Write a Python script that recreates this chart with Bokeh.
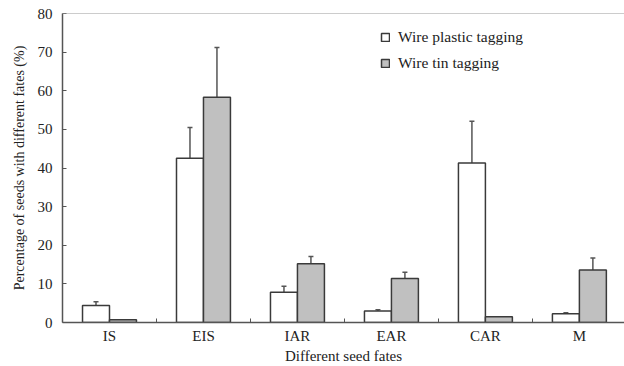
from bokeh.plotting import figure
from bokeh.models import (ColumnDataSource, Range1d, FixedTicker, Whisker, TeeHead,
                          Legend, LegendItem, Span)
from bokeh.embed import file_html
from bokeh.resources import INLINE

categories = ["IS", "EIS", "IAR", "EAR", "CAR", "M"]
plastic = [4.4, 42.5, 7.8, 3.0, 41.3, 2.25]
plastic_err = [1.0, 8.0, 1.6, 0.3, 10.8, 0.3]
tin = [0.7, 58.3, 15.2, 11.4, 1.5, 13.6]
tin_err = [0.0, 12.9, 1.9, 1.6, 0.0, 3.1]
y_ticks = [0, 10, 20, 30, 40, 50, 60, 70, 80]

FONT = "Liberation Serif"
BAR_W = 0.287
Y_MAX = 80

centers = [i + 0.5 for i in range(len(categories))]
xp = [c - BAR_W / 2 for c in centers]
xt = [c + BAR_W / 2 for c in centers]

src_p = ColumnDataSource(dict(x=xp, top=plastic, up=[v + e for v, e in zip(plastic, plastic_err)]))
src_t = ColumnDataSource(dict(x=xt, top=tin, up=[v + e for v, e in zip(tin, tin_err)]))

p = figure(width=624, height=366, output_backend="svg", toolbar_location=None,
           x_range=Range1d(0, 5.98), y_range=Range1d(0, Y_MAX),
           min_border_left=62, min_border_right=0, min_border_top=13, min_border_bottom=44)
p.outline_line_color = None
p.xgrid.visible = False
p.ygrid.visible = False
p.background_fill_color = "white"
p.border_fill_color = "white"

rp = p.vbar(x="x", top="top", width=BAR_W, bottom=0, source=src_p,
            fill_color="white", line_color="#3a3a3a", line_width=1.5)
rt = p.vbar(x="x", top="top", width=BAR_W, bottom=0, source=src_t,
            fill_color="#c0c0c0", line_color="#3a3a3a", line_width=1.5)

for src in (src_p, src_t):
    w = Whisker(base="x", lower="top", upper="up", source=src,
                line_color="#555555", line_width=1.5,
                upper_head=TeeHead(size=5, line_color="#555555", line_width=1.5),
                lower_head=None)
    p.add_layout(w)

p.add_layout(Span(location=Y_MAX, dimension="width", line_color="#999999", line_width=1))

# x axis
p.xaxis.ticker = FixedTicker(ticks=centers, minor_ticks=[1, 2, 3, 4, 5])
p.xaxis.major_label_overrides = {c: n for c, n in zip(centers, categories)}
p.xaxis.major_tick_in = 0
p.xaxis.major_tick_out = 0
p.xaxis.minor_tick_in = 4
p.xaxis.minor_tick_out = 0
p.xaxis.minor_tick_line_color = "#555555"
p.xaxis.axis_line_color = "#555555"
p.xaxis.axis_line_width = 1.5
p.xaxis.major_label_standoff = 5
p.xaxis.major_label_text_font = FONT
p.xaxis.major_label_text_font_size = "15px"
p.xaxis.major_label_text_color = "#222222"
p.xaxis.axis_label = "Different seed fates"
p.xaxis.axis_label_text_font = FONT
p.xaxis.axis_label_text_font_size = "15px"
p.xaxis.axis_label_text_font_style = "normal"
p.xaxis.axis_label_text_color = "#222222"
p.xaxis.axis_label_standoff = 1

# y axis
p.yaxis.ticker = FixedTicker(ticks=y_ticks)
p.yaxis.major_tick_in = 4
p.yaxis.major_tick_out = 0
p.yaxis.minor_tick_line_color = None
p.yaxis.axis_line_color = "#555555"
p.yaxis.axis_line_width = 1.5
p.yaxis.major_tick_line_color = "#555555"
p.yaxis.major_label_standoff = 10
p.yaxis.major_label_text_font = FONT
p.yaxis.major_label_text_font_size = "15px"
p.yaxis.major_label_text_color = "#222222"
p.yaxis.axis_label = "Percentage of seeds with different fates (%)"
p.yaxis.axis_label_text_font = FONT
p.yaxis.axis_label_text_font_size = "14px"
p.yaxis.axis_label_text_font_style = "normal"
p.yaxis.axis_label_text_color = "#222222"
p.yaxis.axis_label_standoff = 8

legend = Legend(items=[LegendItem(label="Wire plastic tagging", renderers=[rp]),
                       LegendItem(label="Wire tin tagging", renderers=[rt])],
                location=(318, 250), padding=0, margin=0, spacing=8,
                glyph_width=10, glyph_height=10, label_standoff=8,
                label_text_font=FONT, label_text_font_size="15.5px",
                label_text_color="#222222",
                border_line_color=None, background_fill_alpha=0)
p.add_layout(legend)

open("out.html", "w").write(file_html(p, INLINE))
